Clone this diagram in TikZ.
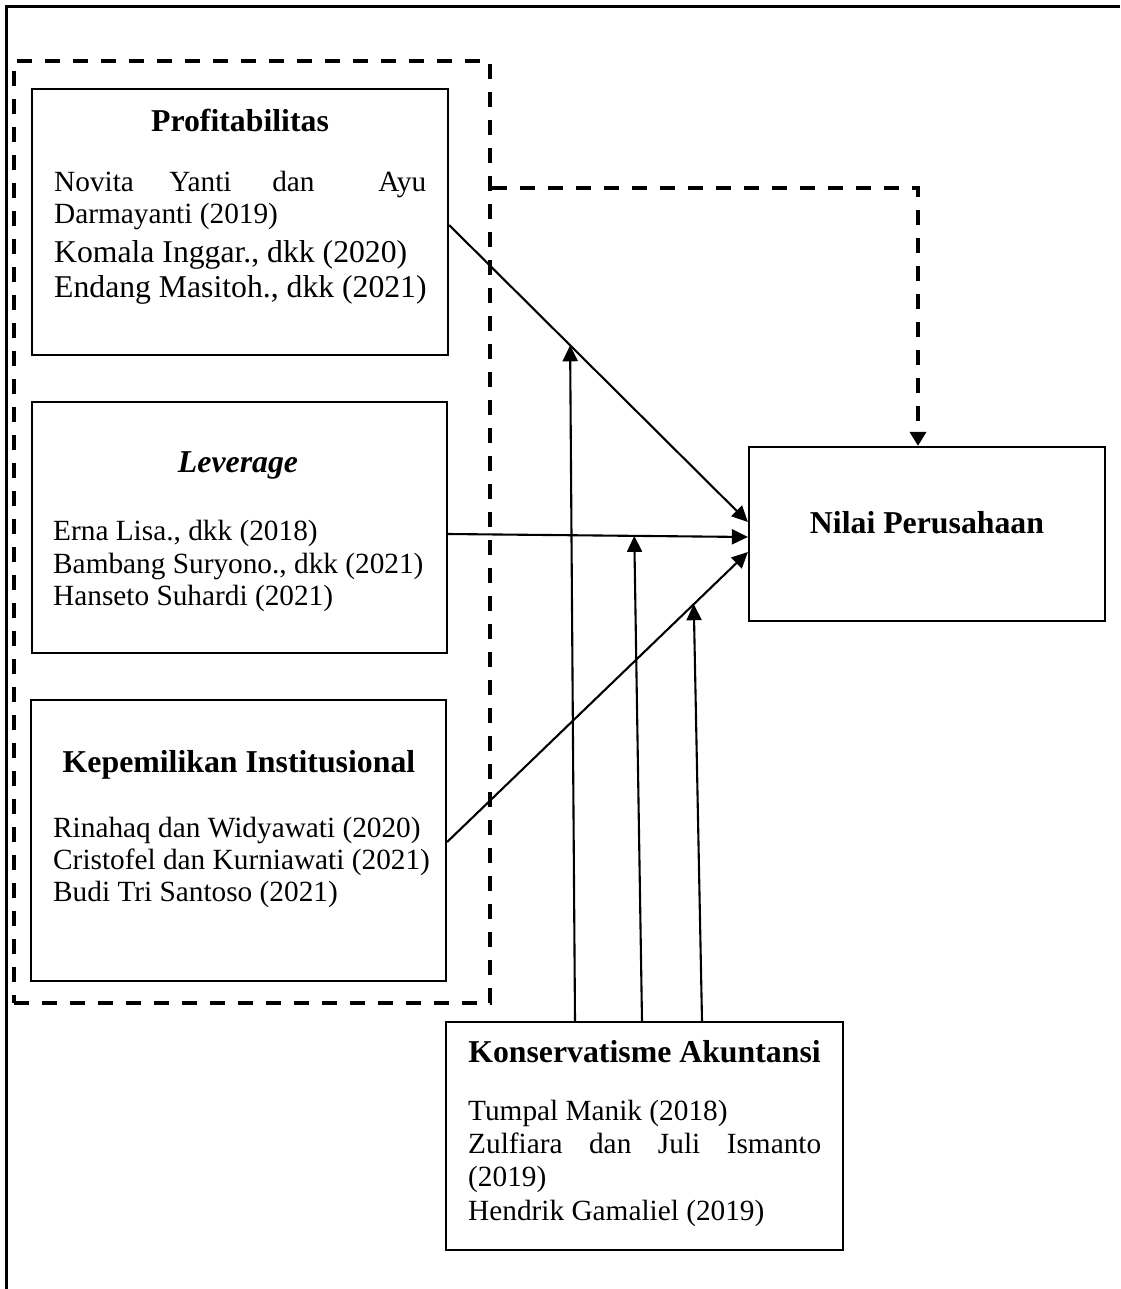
\documentclass[tikz,border=0pt]{standalone}
\usepackage{fontspec}
\setmainfont{Liberation Serif}
\usetikzlibrary{arrows.meta,calc}
\begin{document}
\begin{tikzpicture}[x=1pt,y=-1pt,
  box/.style={draw, line width=2.2pt, rectangle, inner sep=0pt},
  grpbox/.style={draw, line width=3.8pt, dash pattern=on 15pt off 13pt, rectangle, inner sep=0pt},
  title/.style={font=\fontsize{31.8}{36}\selectfont\bfseries, anchor=base, inner sep=0pt},
  body/.style={font=\fontsize{29.3}{33}\selectfont, anchor=base west, inner sep=0pt},
  bodyl/.style={font=\fontsize{31.7}{36}\selectfont, anchor=base west, inner sep=0pt},
  arr/.style={line width=2.1pt, -{Triangle[length=16pt,width=15pt]}},
  dsharr/.style={line width=3.8pt, dash pattern=on 15pt off 13pt, -{Triangle[length=14pt,width=16pt]}}]
\useasboundingbox (0,0) rectangle (1120,1289);
\fill[white] (0,0) rectangle (1120,1289);
% outer frame
\draw[line width=3pt] (1120,7) -- (6.5,7) -- (6.5,1289);
% boxes
\node[grpbox, minimum width=476pt, minimum height=942pt] (grp) at (252,532) {};
\node[box, minimum width=416pt, minimum height=266pt] (prof) at (240,222) {};
\node[box, minimum width=415pt, minimum height=251pt] (lev) at (239.5,527.5) {};
\node[box, minimum width=415pt, minimum height=281pt] (kep) at (238.5,840.5) {};
\node[box, minimum width=356pt, minimum height=174pt] (nilai) at (927,534) {};
\node[box, minimum width=397pt, minimum height=228pt] (kons) at (644.5,1136) {};
% texts
\node[title] (tprof) at (240,132) {Profitabilitas};
\node[body] (p1) at (54,192) {\hbox to 372pt{Novita\hskip 0pt plus 1fil Yanti\hskip 0pt plus 1.15fil dan\hskip 0pt plus 1.8fil Ayu}};
\node[body] (p2) at (54,224) {Darmayanti (2019)};
\node[bodyl] (p3) at (54,262) {Komala Inggar., dkk (2020)};
\node[bodyl] (p4) at (54,297) {Endang Masitoh., dkk (2021)};
\node[title, font=\fontsize{31.8}{36}\selectfont\bfseries\itshape] (tlev) at (238,472) {Leverage};
\node[body] (l1) at (53,540) {Erna Lisa., dkk (2018)};
\node[body] (l2) at (53,573) {Bambang Suryono., dkk (2021)};
\node[body] (l3) at (53,605) {Hanseto Suhardi (2021)};
\node[title] (tkep) at (239,772) {Kepemilikan Institusional};
\node[body] (k1) at (53,837) {Rinahaq dan Widyawati (2020)};
\node[body] (k2) at (53,869) {Cristofel dan Kurniawati (2021)};
\node[body] (k3) at (53,901) {Budi Tri Santoso (2021)};
\node[title] (tnilai) at (927,533) {Nilai Perusahaan};
\node[title] (tkons) at (644.5,1062) {Konservatisme Akuntansi};
\node[body] (c1) at (468,1120) {Tumpal Manik (2018)};
\node[body] (c2) at (468,1153) {\hbox to 353pt{Zulfiara\hfill dan\hfill Juli\hfill Ismanto}};
\node[body] (c3) at (468,1186) {(2019)};
\node[body] (c4) at (468,1220) {Hendrik Gamaliel (2019)};
% connectors
\draw[arr] ([yshift=-3pt]prof.east) -- ([yshift=12pt]nilai.west);
\draw[arr] ([yshift=-6.5pt]lev.east) -- ([yshift=-3pt]nilai.west);
\draw[arr] ([yshift=-1.5pt]kep.east) -- ([yshift=-18pt]nilai.west);
\draw[dsharr] ([yshift=-129pt]grp.north east) -| ([xshift=-9pt]nilai.north);
\coordinate (m1) at ($([yshift=-3pt]prof.east)!0.405!([yshift=12pt]nilai.west)$);
\coordinate (m2) at ($([yshift=-6.5pt]lev.east)!0.621!([yshift=-3pt]nilai.west)$);
\coordinate (m3) at ($([yshift=-1.5pt]kep.east)!0.82!([yshift=-18pt]nilai.west)$);
\draw[arr] ([xshift=-69.5pt]kons.north) -- (m1);
\draw[arr] ([xshift=-2.5pt]kons.north) -- (m2);
\draw[arr] ([xshift=57.5pt]kons.north) -- (m3);
\end{tikzpicture}
\end{document}
